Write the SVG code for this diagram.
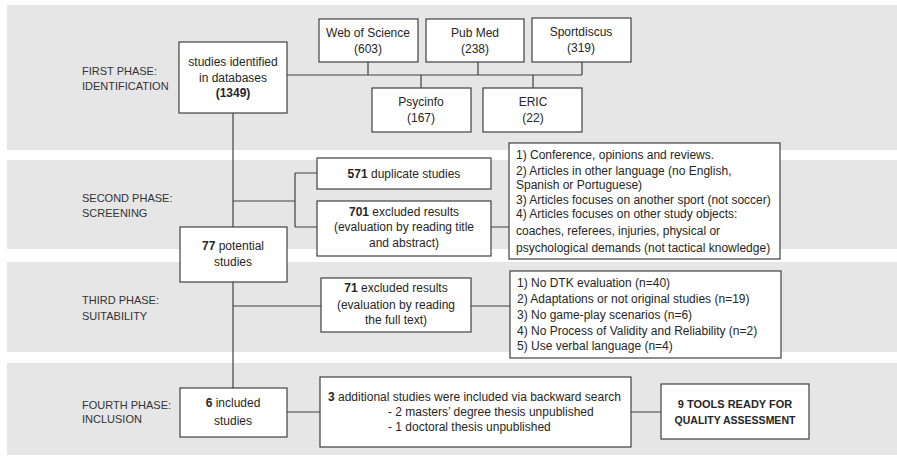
<svg xmlns="http://www.w3.org/2000/svg" width="897" height="456" viewBox="0 0 897 456">
<style>
.band{fill:#e6e6e6}
.box{fill:#fff;stroke:#404040;stroke-width:1.2}
.t{font-family:"Liberation Sans",Arial,sans-serif;font-size:12px;fill:#262626}
.c{text-anchor:middle}
.ph{font-family:"Liberation Sans",Arial,sans-serif;font-size:11px;fill:#333}
.b{font-weight:bold}
.ln{fill:none;stroke:#404040;stroke-width:1.2}
</style>
<rect width="897" height="456" fill="#fff"/>
<g id="bands">
<rect class="band" x="7" y="5" width="890" height="145"/>
<rect class="band" x="7" y="160" width="890" height="89"/>
<rect class="band" x="7" y="262" width="890" height="90"/>
<rect class="band" x="7" y="363" width="890" height="92"/>
</g>
<g id="phase-labels">
<text class="ph" x="82" y="75">FIRST PHASE:</text>
<text class="ph" x="82" y="90">IDENTIFICATION</text>
<text class="ph" x="82" y="202">SECOND PHASE:</text>
<text class="ph" x="82" y="217">SCREENING</text>
<text class="ph" x="82" y="304">THIRD PHASE:</text>
<text class="ph" x="82" y="320">SUITABILITY</text>
<text class="ph" x="82" y="409">FOURTH PHASE:</text>
<text class="ph" x="82" y="423">INCLUSION</text>
</g>
<g id="connectors">
<path class="ln" d="M287 75H582M368 62V75M478 62V75M582 62V75M421 75V88M533 75V88"/>
<path class="ln" d="M233 113V388"/>
<path class="ln" d="M233 201H295M295 173V227M295 173H317M295 227H317M491 227H509"/>
<path class="ln" d="M233 306H321M471 306H510"/>
<path class="ln" d="M287 412H320M631 412H661"/>
</g>
<g id="identified">
<rect class="box" x="179" y="42" width="108" height="71"/>
<text class="t c" x="233" y="66">studies identified</text>
<text class="t c" x="233" y="82">in databases</text>
<text class="t c b" x="233" y="97">(1349)</text>
</g>
<g id="wos">
<rect class="box" x="319" y="19" width="99" height="43"/>
<text class="t c" x="368" y="37">Web of Science</text>
<text class="t c" x="368" y="53">(603)</text>
</g>
<g id="pubmed">
<rect class="box" x="426" y="19" width="98" height="43"/>
<text class="t c" x="475" y="37">Pub Med</text>
<text class="t c" x="475" y="53">(238)</text>
</g>
<g id="sportdiscus">
<rect class="box" x="532" y="18" width="99" height="44"/>
<text class="t c" x="581" y="36">Sportdiscus</text>
<text class="t c" x="581" y="52">(319)</text>
</g>
<g id="psycinfo">
<rect class="box" x="372" y="88" width="99" height="44"/>
<text class="t c" x="421" y="106">Psycinfo</text>
<text class="t c" x="421" y="122">(167)</text>
</g>
<g id="eric">
<rect class="box" x="483" y="88" width="99" height="44"/>
<text class="t c" x="533" y="106">ERIC</text>
<text class="t c" x="533" y="122">(22)</text>
</g>
<g id="duplicates">
<rect class="box" x="317" y="158" width="174" height="31"/>
<text class="t c" x="404" y="178"><tspan class="b">571</tspan> duplicate studies</text>
</g>
<g id="excluded701">
<rect class="box" x="317" y="201" width="174" height="55"/>
<text class="t c" x="404" y="216"><tspan class="b">701</tspan> excluded results</text>
<text class="t c" x="404" y="231">(evaluation by reading title</text>
<text class="t c" x="404" y="247">and abstract)</text>
</g>
<g id="reasons1">
<rect class="box" x="509" y="143" width="271" height="116"/>
<text class="t" x="516" y="159">1) Conference, opinions and reviews.</text>
<text class="t" x="516" y="175">2) Articles in other language (no English,</text>
<text class="t" x="516" y="189">Spanish or Portuguese)</text>
<text class="t" x="516" y="204">3) Articles focuses on another sport (not soccer)</text>
<text class="t" x="516" y="218">4) Articles focuses on other study objects:</text>
<text class="t" x="516" y="235">coaches, referees, injuries, physical or</text>
<text class="t" x="516" y="252">psychological demands (not tactical knowledge)</text>
</g>
<g id="potential">
<rect class="box" x="180" y="227" width="107" height="55"/>
<text class="t c" x="233" y="250"><tspan class="b">77</tspan> potential</text>
<text class="t c" x="233" y="266">studies</text>
</g>
<g id="excluded71">
<rect class="box" x="321" y="278" width="150" height="54"/>
<text class="t c" x="396" y="292"><tspan class="b">71</tspan> excluded results</text>
<text class="t c" x="396" y="309">(evaluation by reading</text>
<text class="t c" x="396" y="324">the full text)</text>
</g>
<g id="reasons2">
<rect class="box" x="510" y="271" width="271" height="87"/>
<text class="t" x="517" y="287">1) No DTK evaluation (n=40)</text>
<text class="t" x="517" y="303">2) Adaptations or not original studies (n=19)</text>
<text class="t" x="517" y="319">3) No game-play scenarios (n=6)</text>
<text class="t" x="517" y="335">4) No Process of Validity and Reliability  (n=2)</text>
<text class="t" x="517" y="350">5) Use verbal language (n=4)</text>
</g>
<g id="included">
<rect class="box" x="180" y="388" width="107" height="49"/>
<text class="t c" x="233" y="407"><tspan class="b">6</tspan> included</text>
<text class="t c" x="233" y="425">studies</text>
</g>
<g id="additional">
<rect class="box" x="320" y="377" width="311" height="70"/>
<text class="t" x="328" y="401"><tspan class="b">3</tspan> additional studies were included via backward search</text>
<text class="t" x="388" y="416">- 2 masters’ degree thesis unpublished</text>
<text class="t" x="388" y="431">- 1 doctoral thesis unpublished</text>
</g>
<g id="tools">
<rect class="box" x="661" y="384" width="148" height="55"/>
<text class="t c b" x="735" y="408" style="font-size:11px">9 TOOLS READY FOR</text>
<text class="t c b" x="735" y="424" style="font-size:10.5px">QUALITY ASSESSMENT</text>
</g>
</svg>
